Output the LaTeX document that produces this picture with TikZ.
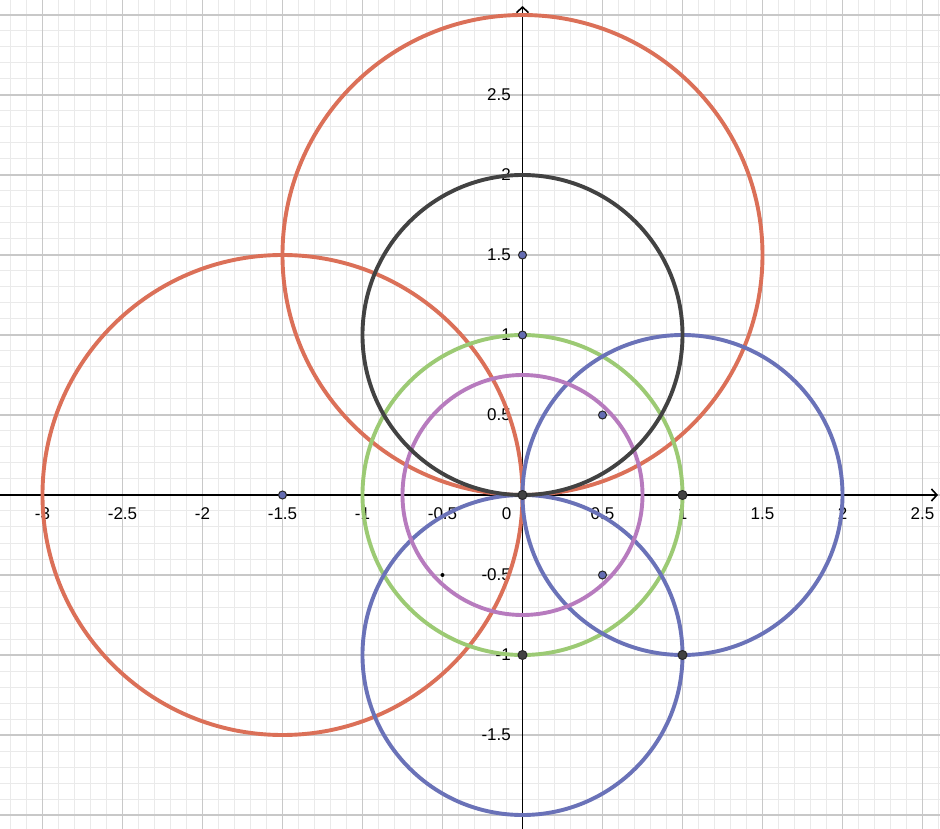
\documentclass[tikz,border=0pt]{standalone}
\usepackage{fontspec}
\setmainfont{Liberation Sans}
\usetikzlibrary{arrows.meta}
\definecolor{cred}{RGB}{219,112,88}
\definecolor{cblue}{RGB}{106,114,184}
\definecolor{cgreen}{RGB}{156,202,116}
\definecolor{cpurple}{RGB}{183,123,190}
\definecolor{cdark}{RGB}{66,66,66}
\definecolor{minorgrid}{RGB}{234,234,234}
\definecolor{majorgrid}{RGB}{200,200,200}
\definecolor{ptblue}{RGB}{100,108,178}
\tikzset{
  curve/.style={line width=3.9pt},
  axis/.style={line width=1.8pt, -{Straight Barb[length=5.5pt,width=12pt,line width=1.6pt]}},
  bluept/.style={circle, fill=ptblue, draw=black!85, line width=1pt, inner sep=0pt, minimum size=8pt},
  darkpt/.style={circle, fill=cdark, draw=black!85, line width=1pt, inner sep=0pt, minimum size=9pt},
  smallpt/.style={circle, fill=black, inner sep=0pt, minimum size=4pt},
  xlab/.style={font=\fontsize{17}{17}\selectfont, inner sep=0pt, yshift=-19pt},
  ylab/.style={font=\fontsize{17}{17}\selectfont, inner sep=0pt, anchor=east, xshift=-11.5pt},
}
\begin{document}
\begin{tikzpicture}[x=160pt,y=160pt]
\useasboundingbox (-3.265625,-2.0875) rectangle (2.609375,3.09375);
\clip (-3.265625,-2.0875) rectangle (2.609375,3.09375);
\fill[white] (-3.265625,-2.0875) rectangle (2.609375,3.09375);
% grid
\draw[minorgrid, line width=1pt, step=0.1] (-3.4,-2.2) grid (2.7,3.2);
\draw[majorgrid, line width=1.4pt, step=0.5] (-3.5,-2.5) grid (3,3.5);
% axes
\coordinate (xl) at (-3.3,0);
\coordinate (xr) at (2.597,0);
\coordinate (yb) at (0,-2.2);
\coordinate (yt) at (0,3.056);
\draw[axis] (xl) -- (xr);
\draw[axis] (yb) -- (yt);
% labels
\foreach \v/\t in {-3/-3,-2.5/-2.5,-2/-2,-1.5/-1.5,-1/-1,-0.5/-0.5,0.5/0.5,1/1,1.5/1.5,2/2,2.5/2.5}
  \node[xlab] (xlab\t) at (\v,0) {\t};
\node[xlab] (xlab0) at (-0.1,0) {0};
\foreach \v/\t in {2.5/2.5,2/2,1.5/1.5,1/1,0.5/0.5,-0.5/-0.5,-1/-1,-1.5/-1.5}
  \node[ylab] (ylab\t) at (0,\v) {\t};
% centres
\coordinate (c1) at (0,1.5);
\coordinate (c2) at (-1.5,0);
\coordinate (c3) at (0,1);
\coordinate (c4) at (0,0);
\coordinate (c5) at (1,0);
\coordinate (c6) at (0,-1);
% circles
\draw[curve, cred] (c1) circle[radius=1.5];
\draw[curve, cred] (c2) circle[radius=1.5];
\draw[curve, cgreen] (c4) circle[radius=1];
\draw[curve, cblue] (c5) circle[radius=1];
\draw[curve, cblue] (c6) circle[radius=1];
\draw[curve, cpurple] (c4) circle[radius=0.75];
\draw[curve, cdark] (c3) circle[radius=1];
% points
\node[bluept] (A) at (0,1.5) {};
\node[bluept] (B) at (0,1) {};
\node[bluept] (C) at (-1.5,0) {};
\node[bluept] (D) at (0.5,0.5) {};
\node[bluept] (E) at (0.5,-0.5) {};
\node[darkpt] (O) at (0,0) {};
\node[darkpt] (F) at (1,0) {};
\node[darkpt] (G) at (0,-1) {};
\node[darkpt] (H) at (1,-1) {};
\node[smallpt] (I) at (-0.5,-0.5) {};
\end{tikzpicture}
\end{document}
